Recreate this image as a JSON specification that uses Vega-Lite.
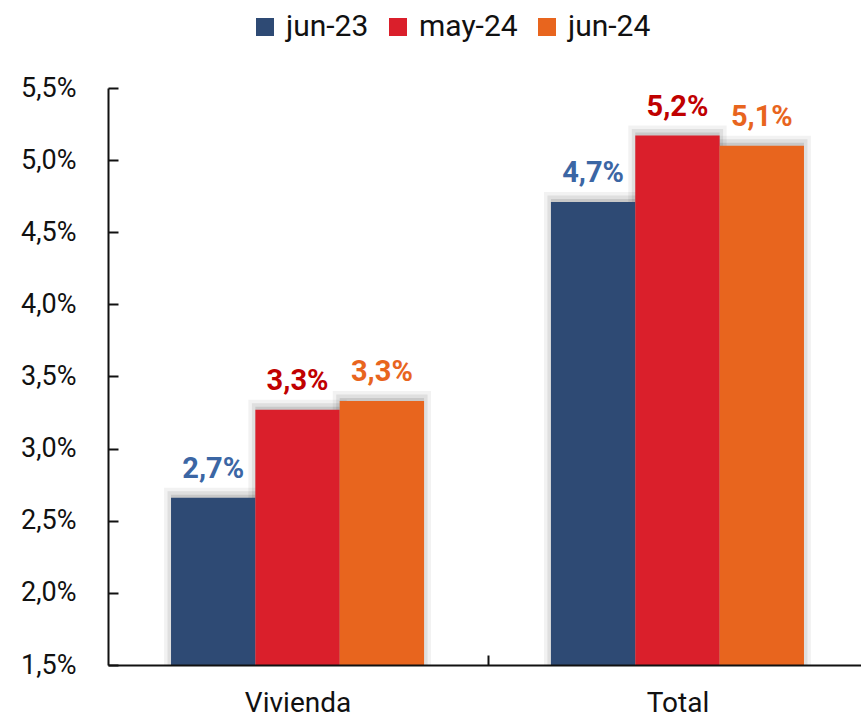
{
  "$schema": "https://vega.github.io/schema/vega-lite/v6.json",
  "autosize": {"type": "none"},
  "padding": {"left": 108, "top": 88, "right": 0, "bottom": 57},
  "width": 753,
  "height": 577,
  "background": "white",
  "config": {
    "locale": {"number": {"decimal": ",", "thousands": ".", "grouping": [3], "currency": ["", " €"]}},
    "font": "Roboto",
    "view": {"stroke": null}
  },
  "data": {
    "values": [
      {"cat": "Vivienda", "serie": "jun-23", "v": 0.0266},
      {"cat": "Vivienda", "serie": "may-24", "v": 0.0327},
      {"cat": "Vivienda", "serie": "jun-24", "v": 0.0333},
      {"cat": "Total", "serie": "jun-23", "v": 0.0471},
      {"cat": "Total", "serie": "may-24", "v": 0.0517},
      {"cat": "Total", "serie": "jun-24", "v": 0.0510}
    ]
  },
  "encoding": {
    "x": {
      "field": "cat", "type": "nominal", "sort": ["Vivienda", "Total"],
      "scale": {"paddingInner": 0.334, "paddingOuter": 0.158, "align": 0.525},
      "axis": {
        "title": null, "labelAngle": 0, "labelFontSize": 28, "labelColor": "#111",
        "labelPadding": 34, "tickBand": "center", "tickOffset": 190, "labelOffset": -190,
        "tickSize": -10, "tickWidth": 2,
        "tickColor": "#111", "domainColor": "#111", "domainWidth": 2, "grid": false, "zindex": 1
      }
    },
    "xOffset": {"field": "serie", "type": "nominal", "sort": ["jun-23", "may-24", "jun-24"], "scale": {"paddingInner": 0, "paddingOuter": 0}},
    "y": {
      "field": "v", "type": "quantitative",
      "scale": {"domain": [0.015, 0.055], "zero": false, "nice": false},
      "axis": {
        "title": null, "format": ".1%", "values": [0.015, 0.02, 0.025, 0.03, 0.035, 0.04, 0.045, 0.05, 0.055],
        "labelFontSize": 27, "labelColor": "#111", "tickSize": -10, "tickWidth": 2,
        "tickColor": "#111", "domainColor": "#111", "domainWidth": 2, "grid": false, "labelPadding": 42
      }
    }
  },
  "layer": [
    {
      "mark": {"type": "bar", "clip": true, "xOffset": -3, "yOffset": -3, "fill": "#000", "fillOpacity": 0, "stroke": "#000", "strokeOpacity": 0.05, "strokeWidth": 14}
    },
    {
      "mark": {"type": "bar", "clip": true, "xOffset": -3, "yOffset": -3, "fill": "#000", "fillOpacity": 0.1, "stroke": "#000", "strokeOpacity": 0.08, "strokeWidth": 7}
    },
    {
      "mark": {"type": "bar", "clip": true},
      "encoding": {
        "color": {
          "field": "serie", "type": "nominal",
          "scale": {"domain": ["jun-23", "may-24", "jun-24"], "range": ["#2E4A74", "#DA1F2B", "#E8651E"]},
          "legend": {
            "title": null, "orient": "none", "direction": "horizontal", "legendX": 142, "legendY": -76,
            "padding": 0, "gridAlign": "none",
            "symbolType": "square", "symbolSize": 324, "symbolStrokeWidth": 0, "symbolOpacity": 1,
            "labelFontSize": 30, "labelColor": "#111", "labelOffset": 6, "columnPadding": 14
          }
        }
      }
    },
    {
      "mark": {"type": "text", "baseline": "bottom", "dy": -14, "fontSize": 29, "fontWeight": "bold"},
      "encoding": {
        "text": {"field": "v", "type": "quantitative", "format": ".1%"},
        "fill": {
          "field": "serie", "type": "nominal",
          "scale": {"domain": ["jun-23", "may-24", "jun-24"], "range": ["#3B66A4", "#C00000", "#E8651E"]},
          "legend": null
        }
      }
    }
  ]
}
